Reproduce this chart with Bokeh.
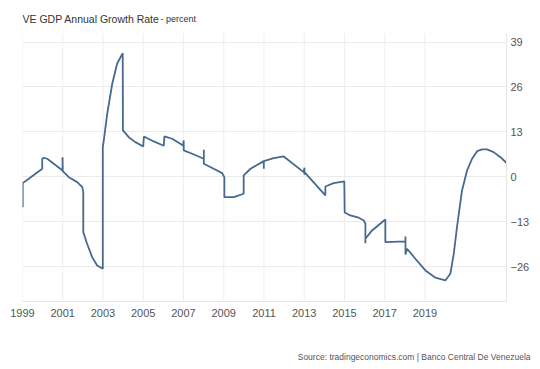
from bokeh.plotting import figure
from bokeh.models import Range1d, FixedTicker, LinearAxis, Label, ColumnDataSource, Title
from bokeh.embed import file_html
from bokeh.resources import INLINE

# Traced series (year, percent) including the chart's vertical steps/ticks
years = [1999.01, 1999.01, 1999.31, 1999.98, 1999.98, 2000.06, 2000.23, 2000.99, 2000.99, 2001.00,
         2001.30, 2001.72, 2001.97, 2002.02, 2002.02, 2002.21, 2002.46, 2002.71, 2002.99, 2002.99,
         2003.04, 2003.21, 2003.46, 2003.70, 2003.98, 2003.99, 2004.28, 2004.61, 2005.00, 2005.03,
         2005.52, 2006.02, 2006.05, 2006.44, 2006.98, 2007.01, 2007.01, 2007.43, 2008.01, 2008.01,
         2008.01, 2008.50, 2008.92, 2009.03, 2009.03, 2009.50, 2009.99, 2009.99, 2010.33, 2010.99,
         2010.99, 2010.99, 2011.48, 2011.98, 2012.97, 2013.01, 2013.01, 2013.02, 2014.05, 2014.05,
         2014.46, 2014.99, 2015.01, 2015.29, 2015.71, 2015.96, 2016.04, 2016.04, 2016.04, 2016.37,
         2017.03, 2017.03, 2018.03, 2018.03, 2018.03, 2018.11, 2018.52, 2019.02, 2019.52, 2020.01,
         2020.26, 2020.43, 2020.59, 2020.84, 2021.09, 2021.34, 2021.59, 2021.84, 2022.08, 2022.41,
         2022.75, 2023.04]
growth = [-8.73, -1.79, -0.52, 2.37, 5.26, 5.55, 5.26, 1.88, 5.72, 1.68,
          -0.06, -1.50, -2.95, -4.39, -15.95, -19.31, -23.18, -25.58, -26.53, 8.61,
          10.55, 18.27, 26.94, 32.72, 35.78, 13.44, 11.50, 10.06, 8.82, 11.71,
          10.26, 9.02, 11.71, 11.04, 9.10, 10.55, 7.66, 6.71, 5.26, 7.86,
          3.82, 2.37, 1.10, -0.06, -5.84, -5.84, -4.86, 0.43, 2.37, 4.57,
          2.37, 4.57, 5.43, 5.92, 1.39, 2.66, 0.64, 1.30, -5.35, -2.75,
          -1.79, -1.30, -10.26, -11.13, -11.79, -12.57, -13.53, -19.13, -17.86, -15.46,
          -12.28, -18.84, -18.64, -17.20, -22.40, -20.75, -23.64, -27.02, -29.13, -29.91,
          -27.98, -22.20, -14.51, -3.90, 1.88, 5.26, 7.46, 7.95, 7.95, 7.17,
          5.72, 4.10]

x_ticks = [1999, 2001, 2003, 2005, 2007, 2009, 2011, 2013, 2015, 2017, 2019]
y_ticks = [-26, -13, 0, 13, 26, 39]

title_main = "VE GDP Annual Growth Rate"
title_unit = "- percent"
source_text = "Source: tradingeconomics.com | Banco Central De Venezuela"

W, H = 540, 369
FL, FT, FR, FB = 22, 0, 34, 68
Y_LO, Y_PLOT_HI, Y_HI = -36.0, 41.5, 51.0   # frame extends above plot area for title

p = figure(width=W, height=H, output_backend="svg", toolbar_location=None,
           x_range=Range1d(1999.0, 2023.05), y_range=Range1d(Y_LO, Y_HI),
           y_axis_location=None,
           min_border_left=FL, min_border_top=FT, min_border_right=FR, min_border_bottom=FB)
p.outline_line_color = None
p.background_fill_color = "white"
p.border_fill_color = "white"

# vertical grid lines limited to plot area
p.segment(x0=x_ticks, x1=x_ticks, y0=[Y_LO] * len(x_ticks), y1=[Y_PLOT_HI] * len(x_ticks),
          line_color="#eeeeee", line_width=1, level="underlay")
p.xgrid.visible = False

src = ColumnDataSource(dict(x=years, y=growth))
p.line("x", "y", source=src, line_color="#47698d", line_width=1.8)

# x axis
xa = p.xaxis[0]
xa.ticker = FixedTicker(ticks=x_ticks)
xa.major_tick_line_color = None
xa.minor_tick_line_color = None
xa.major_tick_out = 0
xa.major_tick_in = 0
xa.axis_line_color = "#e6e6e6"
xa.major_label_text_font = "Liberation Sans"
xa.major_label_text_font_size = "11px"
xa.major_label_text_color = "#555555"
xa.major_label_standoff = 7

# right y axis
ya = LinearAxis(ticker=FixedTicker(ticks=y_ticks), bounds=(Y_LO, Y_PLOT_HI))
ya.major_tick_line_color = None
ya.minor_tick_line_color = None
ya.major_tick_out = 0
ya.major_tick_in = 0
ya.axis_line_color = "#e6e6e6"
ya.major_label_text_font = "Liberation Sans"
ya.major_label_text_font_size = "11px"
ya.major_label_text_color = "#555555"
ya.major_label_standoff = 4
p.add_layout(ya, "right")

p.ygrid[0].ticker = FixedTicker(ticks=y_ticks)
p.ygrid[0].grid_line_color = "#ebebeb"

frame_h = H - FT - FB
p.add_layout(Label(x=0, y=frame_h - 18, x_units="screen", y_units="screen",
                   text=title_main, text_font="Liberation Sans", text_font_size="10.5px",
                   text_color="#333333", text_baseline="alphabetic"))
p.add_layout(Label(x=138, y=frame_h - 18, x_units="screen", y_units="screen",
                   text=title_unit, text_font="Liberation Sans", text_font_size="9px",
                   text_color="#333333", text_baseline="alphabetic"))

# source line: leading blank lines push it down without wasting space below it
p.add_layout(Title(text="\n\n\n" + source_text, align="right", offset=-24, standoff=0,
                   text_font="Liberation Sans", text_font_size="8.5px",
                   text_font_style="normal", text_color="#555555"), "below")

open("out.html", "w").write(file_html(p, INLINE))
